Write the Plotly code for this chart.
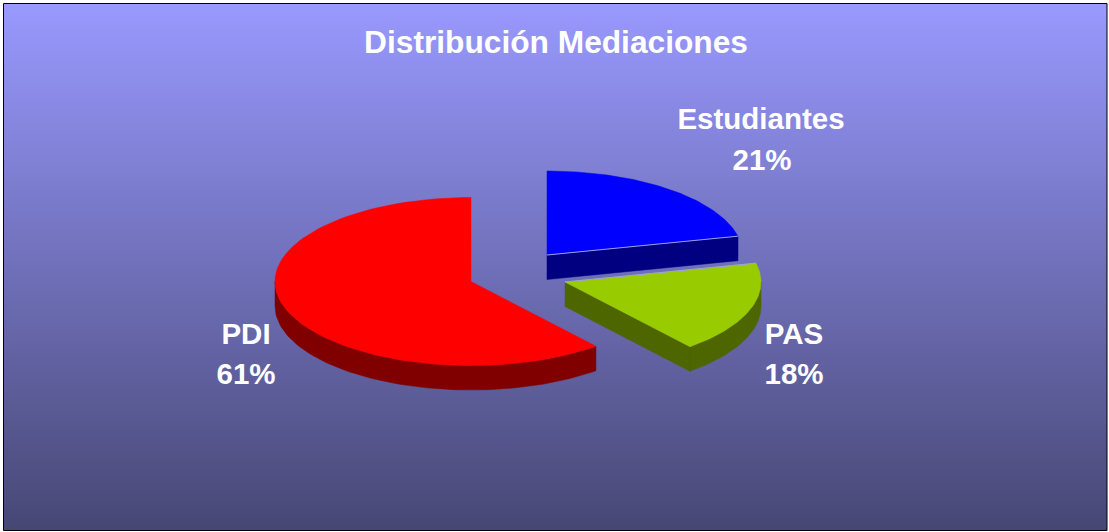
import math
import plotly.graph_objects as go

categories = ["Estudiantes", "PAS", "PDI"]
values = [21.4, 17.6, 61.0]
top_colors = ["#0000FF", "#99CC00", "#FF0000"]
side_colors = ["#000080", "#4D6600", "#800000"]
centers = [(547, 255), (565, 282), (471, 281.5)]
title = "Distribución Mediaciones"
label_pos = [((761, 122), (762, 163)), ((794, 337), (794, 377)), ((246, 337), (246, 377))]

W, H = 1109, 532
RX, RY, DEPTH = 196, 84, 24.5
FONT = "Liberation Sans"


def pt(c, a, dy=0):
    return (c[0] + RX * math.sin(a), c[1] - RY * math.cos(a) + dy)


def arc(c, a0, a1, n=90):
    return [pt(c, a0 + (a1 - a0) * i / n) for i in range(n + 1)]


def poly(points, color):
    xs = [p[0] for p in points] + [points[0][0]]
    ys = [p[1] for p in points] + [points[0][1]]
    return go.Scatter(x=xs, y=ys, mode="lines", fill="toself", fillcolor=color,
                      line=dict(color=color, width=0.5), hoverinfo="skip", showlegend=False)


def band(path, color):
    return poly(path + [(x, y + DEPTH) for x, y in reversed(path)], color)


fig = go.Figure()
fig.add_trace(go.Scatter(
    x=[3.5, 1107, 1107, 3.5, 3.5], y=[3.5, 3.5, 530.5, 530.5, 3.5], mode="lines", fill="toself",
    line=dict(color="#000000", width=1), hoverinfo="skip", showlegend=False,
    fillgradient=dict(type="vertical", start=3, stop=530,
                      colorscale=[[0, "#9999FF"], [1, "#474775"]]),
))

total = sum(values)
start = 0.0
wedges = []
for v, tc, sc, c in zip(values, top_colors, side_colors, centers):
    end = start + 2 * math.pi * v / total
    wedges.append((start, end, tc, sc, c))
    start = end

# back-to-front: blue, then red, then green
for idx in (0, 2, 1):
    a0, a1, tc, sc, c = wedges[idx]
    lo, hi = max(a0, math.pi / 2), min(a1, 3 * math.pi / 2)
    if hi > lo:
        fig.add_trace(band(arc(c, lo, hi), sc))
    if idx in (0, 1):
        fig.add_trace(band([c, pt(c, a1)], sc))
    fig.add_trace(poly([c] + arc(c, a0, a1), tc))
    if idx in (0, 1):
        edge = [c, pt(c, a1 if idx == 0 else a0)]
        fig.add_trace(go.Scatter(x=[p[0] for p in edge], y=[p[1] for p in edge], mode="lines",
                                 line=dict(color="#9DA0E8", width=1), hoverinfo="skip", showlegend=False))

tx, ty, tt = [], [], []
for cat, v, (p1, p2) in zip(categories, values, label_pos):
    tx += [p1[0], p2[0]]
    ty += [p1[1], p2[1]]
    tt += [cat, f"{round(v)}%"]
fig.add_trace(go.Scatter(x=tx, y=ty, text=tt, mode="text", hoverinfo="skip", showlegend=False,
                         textposition="middle center",
                         textfont=dict(family=FONT, size=29.5, color="#FFFFFF", weight="bold")))
fig.add_trace(go.Scatter(x=[556], y=[45], text=[title], mode="text", hoverinfo="skip", showlegend=False,
                         textposition="middle center",
                         textfont=dict(family=FONT, size=31.7, color="#FFFFFF", weight="bold")))

fig.update_layout(
    width=W, height=H, margin=dict(l=0, r=0, t=0, b=0),
    paper_bgcolor="#FFFFFF", plot_bgcolor="#FFFFFF", showlegend=False,
    xaxis=dict(range=[0, W], visible=False, fixedrange=True),
    yaxis=dict(range=[H, 0], visible=False, fixedrange=True),
)
fig.write_html("out.html", config={"displayModeBar": False, "responsive": False},
               post_script="document.body.style.margin='0';document.body.style.overflow='hidden';")
